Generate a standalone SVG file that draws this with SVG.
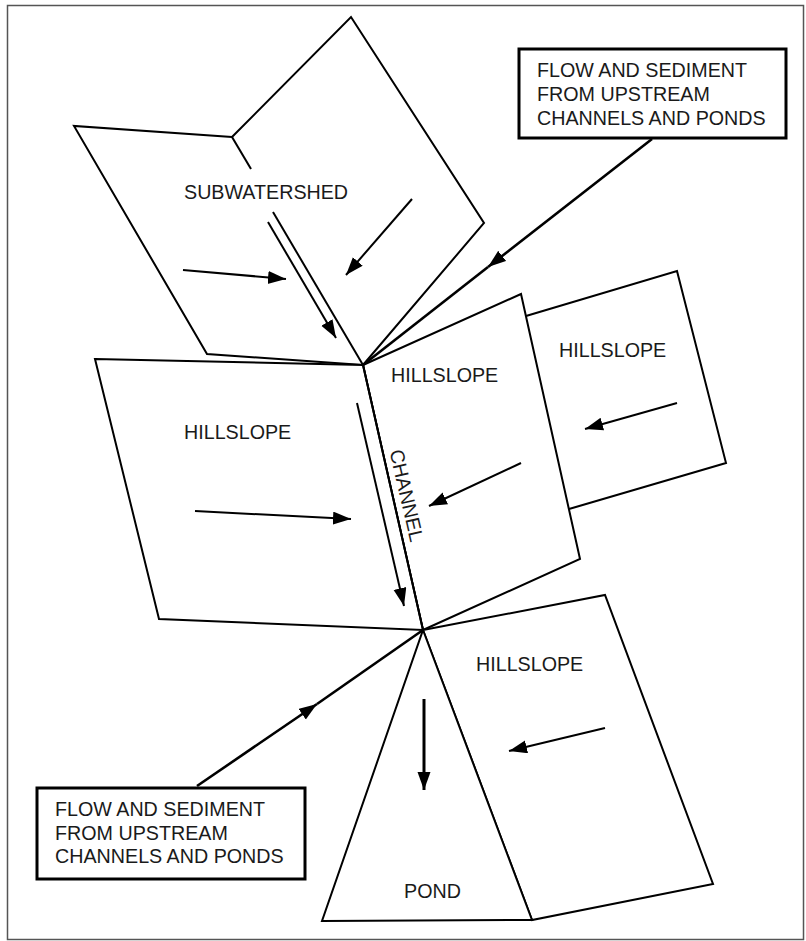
<svg xmlns="http://www.w3.org/2000/svg" width="806" height="941" viewBox="0 0 806 941">
<style>
.pl{fill:#fff;stroke:#000;stroke-width:2;stroke-linejoin:miter}
.fl{fill:#fff;stroke:none}
.ln{fill:none;stroke:#000;stroke-width:2;stroke-linejoin:miter}
.ar{fill:none;stroke:#000;stroke-width:2;marker-end:url(#ah)}
.ld{fill:none;stroke:#000;stroke-width:2.6}
.bx{fill:#fff;stroke:#000;stroke-width:3}
text{font-family:"Liberation Sans",Arial,Helvetica,sans-serif;font-size:19.7px;fill:#1a1a1a}
</style>
<defs>
<marker id="ah" markerUnits="userSpaceOnUse" markerWidth="20" markerHeight="14" refX="18" refY="6.5" orient="auto">
<path d="M0,0 L18,6.5 L0,13 z" fill="#000"/>
</marker>
</defs>
<rect x="7.5" y="5.5" width="796" height="934" fill="#fff" stroke="#555" stroke-width="1.5"/>

<g id="subwatershed">
<polygon class="fl" points="232,137 351,17 484,223 363,365 207,354 74,126"/>
<polyline class="ln" points="232,137 351,17 484,223 363,365"/>
<polyline class="ln" points="232,137 74,126 207,354 363,365"/>
<line class="ln" x1="232" y1="137" x2="251" y2="169"/>
<line class="ln" x1="273" y1="212" x2="363" y2="365"/>
<text x="184" y="199">SUBWATERSHED</text>
<line class="ar" x1="183" y1="270" x2="286" y2="279"/>
<line class="ar" x1="412" y1="199" x2="346" y2="275"/>
<line class="ar" x1="268" y1="222" x2="336" y2="338"/>
</g>

<g id="hillslope-right">
<polygon class="fl" points="520,318 677,271 726,463 565,511"/>
<polyline class="ln" points="526,316 677,271 726,463 569,509"/>
<text x="559" y="357">HILLSLOPE</text>
<line class="ar" x1="677" y1="403" x2="585" y2="429"/>
</g>

<g id="hillslope-center">
<polygon class="pl" points="363,365 521,294 580,559 423,630"/>
<text x="391" y="382">HILLSLOPE</text>
<line class="ar" x1="521" y1="463" x2="429" y2="506"/>
</g>

<g id="hillslope-left">
<polygon class="pl" points="95,359 363,365 423,630 159,619"/>
<text x="184" y="439">HILLSLOPE</text>
<line class="ar" x1="195" y1="511" x2="351" y2="519"/>
</g>

<g id="channel">
<line class="ln" x1="363" y1="365" x2="423" y2="630"/>
<text x="0" y="0" text-anchor="middle" transform="translate(400,497) rotate(77)">CHANNEL</text>
<line class="ar" x1="357" y1="403" x2="404" y2="606"/>
</g>

<g id="hillslope-bottom">
<polygon class="pl" points="423,630 605,595 713,884 532,920"/>
<text x="476" y="671">HILLSLOPE</text>
<line class="ar" x1="605" y1="728" x2="509" y2="751"/>
</g>

<g id="pond">
<polygon class="pl" points="423,630 532,920 322,921"/>
<text x="404" y="898">POND</text>
<line class="ar" x1="424" y1="699" x2="424" y2="790" style="stroke-width:3"/>
</g>

<g id="box-upstream-top">
<rect class="bx" x="519" y="49" width="267" height="89"/>
<text x="537" y="77">FLOW AND SEDIMENT</text>
<text x="537" y="101">FROM UPSTREAM</text>
<text x="537" y="125">CHANNELS AND PONDS</text>
</g>

<g id="box-upstream-bottom">
<rect class="bx" x="37" y="788" width="268" height="91"/>
<text x="55" y="816">FLOW AND SEDIMENT</text>
<text x="55" y="840">FROM UPSTREAM</text>
<text x="55" y="863">CHANNELS AND PONDS</text>
</g>

<g id="connectors">
<line class="ld" x1="652" y1="139" x2="488" y2="267" style="marker-end:url(#ah)"/>
<line class="ld" x1="488" y1="267" x2="363" y2="365"/>
<line class="ld" x1="197" y1="786" x2="317" y2="704" style="marker-end:url(#ah)"/>
<line class="ld" x1="317" y1="704" x2="423" y2="630"/>
</g>
</svg>
